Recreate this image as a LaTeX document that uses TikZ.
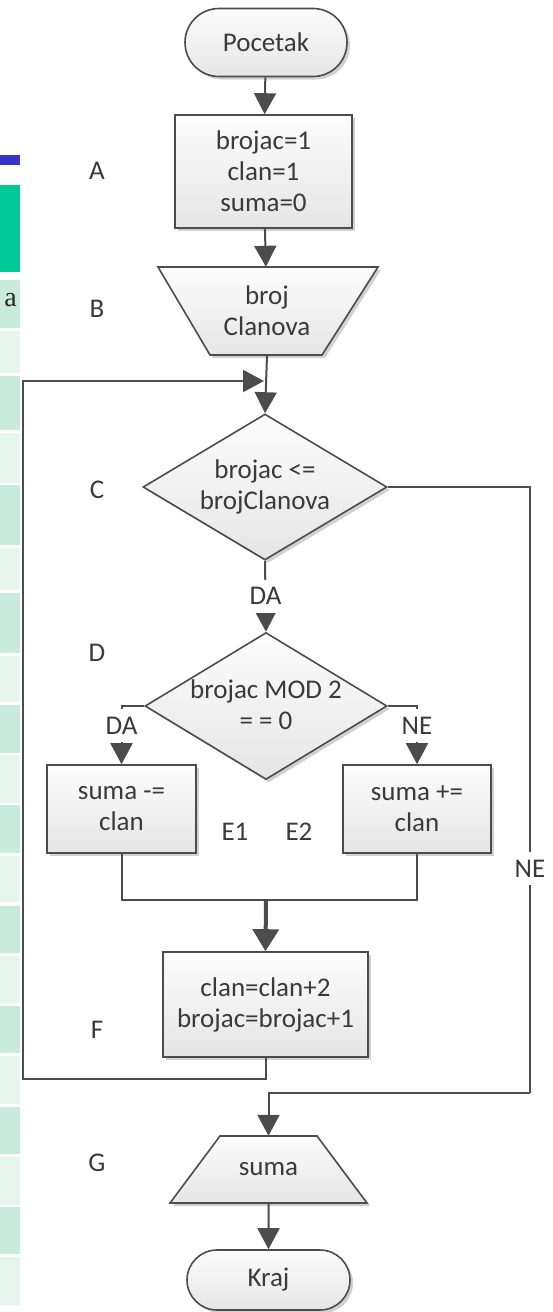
\documentclass[tikz,border=0pt]{standalone}
\usepackage{fontspec}
\setmainfont{Carlito}
\newfontfamily\cellfont{Liberation Serif}
\usetikzlibrary{arrows.meta,shapes.geometric,shapes.misc,shadows}
\definecolor{edge}{HTML}{4C4C4C}
\definecolor{ink}{HTML}{3A3A3A}
\definecolor{rowdark}{HTML}{C9EBDD}
\definecolor{rowlight}{HTML}{E6F5EE}
\definecolor{cellgreen}{HTML}{00C998}
\definecolor{barblue}{HTML}{3535C8}
\tikzset{
  txt/.style={font=\fontsize{27}{31}\selectfont},
  look/.style={draw=edge, line width=1.6pt, top color=black!1, bottom color=black!10,
    drop shadow={shadow xshift=3pt, shadow yshift=-3pt, opacity=0.18, fill=black}},
  shp/.style={look, inner sep=0pt, text=ink, align=center, txt},
  term/.style={shp, rounded rectangle},
  proc/.style={shp, rectangle},
  dec/.style={shp, diamond},
  conn/.style={draw=edge, line width=2pt},
  arr/.style={conn, -{Triangle[width=22pt,length=21pt]}},
  bigarr/.style={draw=edge, line width=4pt, -{Triangle[width=26pt,length=22pt]}},
  tag/.style={text=ink, txt, inner sep=1pt},
  cond/.style={tag, fill=white, inner xsep=2pt, inner ysep=8pt},
}
\begin{document}
\begin{tikzpicture}[x=1pt,y=-1pt]
\useasboundingbox (0,0) rectangle (553,1312);

% table strip on the left edge
\fill[barblue] (0,155) rectangle (20,165);
\fill[cellgreen] (0,185) rectangle (20,272);
\foreach \a/\b/\c in {280/328/rowdark,331/373/rowlight,376/430/rowdark,433/483/rowlight,
  485/545/rowdark,548/590/rowlight,593/653/rowdark,656/702/rowlight,705/753/rowdark,
  755/803/rowlight,805/853/rowdark,856/902/rowlight,906/953/rowdark,956/1003/rowlight,
  1006/1053/rowdark,1056/1104/rowlight,1107/1154/rowdark,1157/1205/rowlight,
  1207/1254/rowdark,1257/1305/rowlight}
  \fill[\c] (0,\a) rectangle (20,\b);
\node[anchor=base east, inner sep=0pt, text=black!85, font=\cellfont\fontsize{28}{30}\selectfont] (cella) at (17,306) {a};

% flowchart shapes
\node[term, minimum width=162pt, minimum height=68pt] (start) at (266,42.5) {Pocetak};
\node[proc, minimum width=177pt, minimum height=113pt] (A) at (263.5,171.5) {brojac=1\\clan=1\\suma=0};
% manual input: wide top, narrow bottom
\path[look] (158,267) -- (378,267) -- (322,355) -- (210,355) -- cycle;
\node[tag, align=center, inner sep=0pt, minimum width=220pt, minimum height=88pt] (B) at (267,311) {broj\\Clanova};
\node[dec, minimum width=244pt, minimum height=146pt] (C) at (265,487) {};
\node[tag, align=center] (Ct) at (C) {brojac <=\\brojClanova};
\node[dec, minimum width=242pt, minimum height=147pt] (D) at (266,706) {};
\node[tag, align=center] (Dt) at (266,705) {brojac MOD 2\\= = 0};
\node[proc, minimum width=149pt, minimum height=88pt] (E1) at (121.5,809) {suma -=\\clan};
\node[proc, minimum width=148pt, minimum height=88pt] (E2) at (417,809) {suma +=\\clan};
\node[proc, minimum width=205pt, minimum height=105pt] (F) at (265.5,1004.5) {clan=clan+2\\brojac=brojac+1};
% output: narrow top, wide bottom
\path[look] (220,1136) -- (317,1136) -- (367,1203) -- (170,1203) -- cycle;
\node[tag, inner sep=0pt, minimum width=197pt, minimum height=67pt] (G) at (268.5,1169.5) {suma};
\node[term, minimum width=163pt, minimum height=60pt] (end) at (268.5,1280) {Kraj};

% step labels
\node[tag] (lA) at (97,171) {A};
\node[tag] (lB) at (97,309) {B};
\node[tag] (lC) at (97,490) {C};
\node[tag] (lD) at (97,653) {D};
\node[tag] (lE1) at (235,832) {E1};
\node[tag] (lE2) at (299,832) {E2};
\node[tag] (lF) at (97,1030) {F};
\node[tag] (lG) at (97,1163) {G};

% connector corners
\coordinate (jL) at (121.5,900);
\coordinate (jM) at (266,900);
\coordinate (jR) at (417,900);
\coordinate (loopB) at (23,1079);
\coordinate (loopT) at (23,381);
\coordinate (loopIn) at (264,381);
\coordinate (exitR) at (530,1093);

% connectors
\draw[arr] (start) -- (A);
\draw[arr] (A) -- (B);
\draw[arr] (B.south) -- (C.north);
\draw[arr] (C.south) -- node[cond] {DA} (D.north);
\draw[arr] (D.west) -| node[cond, pos=0.667] {DA} (E1.north);
\draw[arr] (D.east) -| node[cond, pos=0.667] {NE} (E2.north);
\draw[conn] (E1.south) -- (jL) -- (jR) -- (E2.south);
\draw[bigarr] (jM) -- (F.north);
\draw[arr] (F.south) |- (loopB) -- (loopT) -- (loopIn);
\draw[conn] (C.east) -| node[cond, pos=0.815] {NE} (exitR);
\draw[arr] (exitR) -| (G.north);
\draw[arr] (G.south) -- (end);
\end{tikzpicture}
\end{document}
